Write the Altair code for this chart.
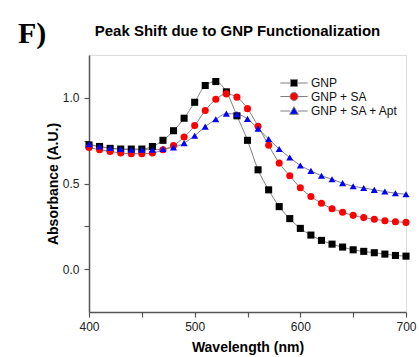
import altair as alt
import pandas as pd

wavelength = list(range(400, 701, 10))
series_names = ["GNP", "GNP + SA", "GNP + SA + Apt"]
gnp = [0.725, 0.716, 0.705, 0.701, 0.701, 0.701, 0.716, 0.752, 0.808, 0.881, 0.974,
       1.072, 1.095, 1.035, 0.895, 0.752, 0.580, 0.463, 0.365, 0.295, 0.238,
       0.199, 0.168, 0.146, 0.129, 0.113, 0.104, 0.096, 0.088, 0.080, 0.076]
gnp_sa = [0.710, 0.697, 0.687, 0.678, 0.674, 0.674, 0.678, 0.697, 0.722, 0.771, 0.838,
          0.926, 0.992, 1.023, 1.004, 0.937, 0.834, 0.723, 0.619, 0.545, 0.475,
          0.424, 0.385, 0.353, 0.332, 0.314, 0.301, 0.291, 0.283, 0.277, 0.273]
gnp_sa_apt = [0.730, 0.716, 0.707, 0.701, 0.697, 0.697, 0.697, 0.701, 0.711, 0.736, 0.779,
              0.832, 0.875, 0.908, 0.905, 0.877, 0.820, 0.760, 0.701, 0.652, 0.605,
              0.574, 0.545, 0.525, 0.502, 0.484, 0.474, 0.463, 0.453, 0.443, 0.437]
colors = ["#000000", "#ff0000", "#0000ff"]
shapes = ["square", "circle", "triangle-up"]
legend_paths = [
    "M-3.9,0H-1M1,0H3.9M-1,-1H1V1H-1Z",
    "M-3.9,0H-1.15M1.15,0H3.9M1.15,0A1.15,1.15,0,1,1,-1.15,0A1.15,1.15,0,1,1,1.15,0Z",
    "M-3.9,0H-1.1M1.1,0H3.9M0,-1.25L1.25,0.95H-1.25Z",
]
x_ticks = [400, 450, 500, 550, 600, 650, 700]
y_ticks = [0.0, 0.25, 0.5, 0.75, 1.0]

rows = []
for name, vals in zip(series_names, [gnp, gnp_sa, gnp_sa_apt]):
    for w, v in zip(wavelength, vals):
        rows.append({"wavelength": w, "absorbance": v, "series": name})
df = pd.DataFrame(rows)

FONT = "Liberation Sans"
axis_common = dict(
    domainColor="#555555", domainWidth=1.5, tickColor="#555555", tickWidth=1.2,
    tickSize=5, labelFont=FONT, labelFontSize=12, labelColor="#222222",
    titleFont=FONT, titleFontSize=14, titleFontWeight="bold", titleColor="#000000",
    grid=False, labelOverlap=False, labelFlush=False,
)

x = alt.X("wavelength:Q",
          scale=alt.Scale(domain=[400, 700], nice=False, zero=False),
          axis=alt.Axis(values=x_ticks, title="Wavelength (nm)",
                        labelExpr="datum.value % 100 == 0 ? datum.label : ''",
                        labelPadding=4, titlePadding=8, **axis_common))
y = alt.Y("absorbance:Q",
          scale=alt.Scale(domain=[-0.25, 1.25], nice=False, zero=False),
          axis=alt.Axis(values=y_ticks, title="Absorbance (A.U.)",
                        labelExpr="abs(datum.value * 2 - round(datum.value * 2)) < 0.001 ? format(datum.value, '.1f') : ''",
                        labelPadding=5, titlePadding=2, **axis_common))

base = alt.Chart(df)

lines = base.mark_line(color="#808080", strokeWidth=1, interpolate="monotone").encode(
    x=x, y=y, detail="series:N")

points = base.mark_point(filled=True, opacity=1, size=50).encode(
    x=x, y=y,
    color=alt.Color("series:N", scale=alt.Scale(domain=series_names, range=colors), legend=None),
    shape=alt.Shape("series:N", scale=alt.Scale(domain=series_names, range=shapes), legend=None),
)

def make_legend():
    return alt.Legend(title=None, orient="none", legendX=199, legendY=22,
                      symbolSize=49, labelOffset=11, labelFont=FONT, labelFontSize=12,
                      labelColor="#111111", rowPadding=0.5, padding=0,
                      symbolStrokeColor="#808080", symbolStrokeWidth=1)

legend_layer = base.transform_filter("false").mark_point(filled=True, opacity=1).encode(
    x=x, y=y,
    color=alt.Color("series:N", scale=alt.Scale(domain=series_names, range=colors), legend=make_legend()),
    shape=alt.Shape("series:N", scale=alt.Scale(domain=series_names, range=legend_paths), legend=make_legend()),
)

panel = pd.DataFrame({"label": ["F)"]})
panel_text = alt.Chart(panel).mark_text(
    font="Liberation Serif", fontSize=30, fontWeight="bold", align="left",
    baseline="alphabetic", color="#000000").encode(
    text="label:N", x=alt.value(-71), y=alt.value(-12))

chart = alt.layer(lines, points, legend_layer, panel_text).resolve_scale(
    shape="independent", color="independent"
).properties(
    width=317, height=257,
    title=alt.Title("Peak Shift due to GNP Functionalization", font=FONT, fontSize=15,
                    fontWeight="bold", color="#000000", anchor="middle", dx=-10, dy=34, offset=14),
    autosize=alt.AutoSizeParams(type="none"),
    padding={"left": 89, "top": 55, "right": 13, "bottom": 45},
).configure_view(stroke=None).configure(background="white")

chart.save("out.html", embed_options={"renderer": "svg", "actions": False})
